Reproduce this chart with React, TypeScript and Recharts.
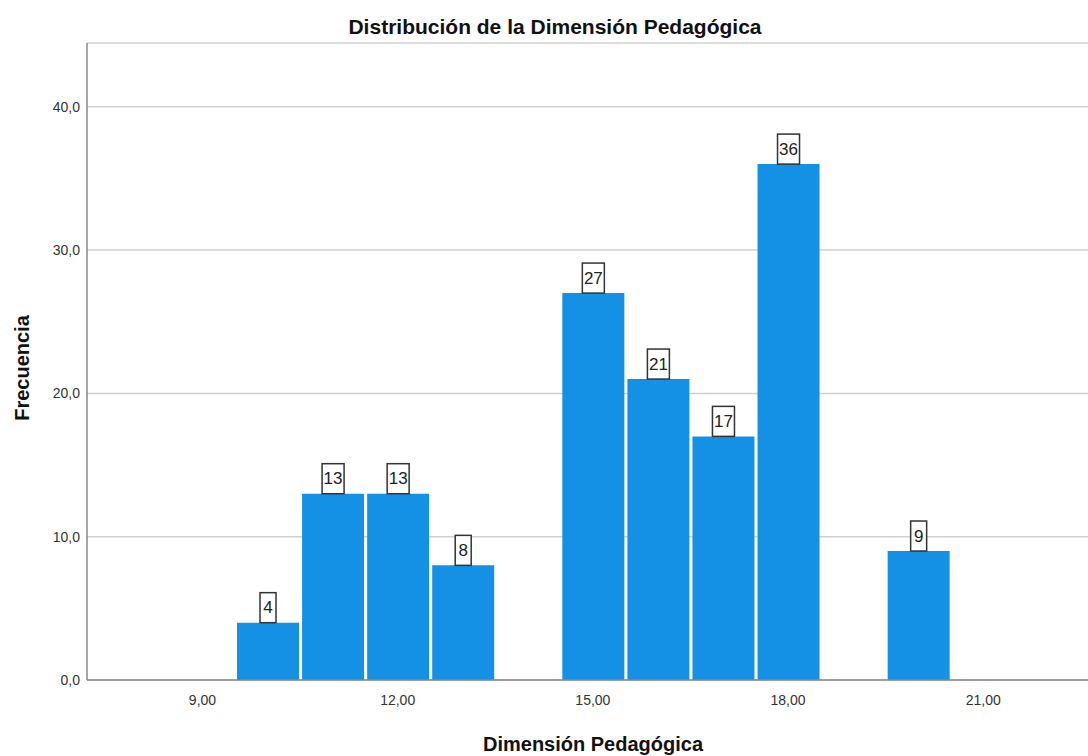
import { BarChart, Bar, XAxis, YAxis, CartesianGrid, LabelList } from 'recharts';

const scores = [10, 11, 12, 13, 15, 16, 17, 18, 20];
const counts = [4, 13, 13, 8, 27, 21, 17, 36, 9];
const xTicks = [9, 12, 15, 18, 21];
const yTicks = [0, 10, 20, 30, 40];

const data = scores.map((s, i) => ({ score: s, count: counts[i] }));

const BAR_BLUE = '#1490e5';
const TICK_STYLE = { fill: '#333', fontSize: 14, fontFamily: 'Liberation Sans, Arial, sans-serif' };

function BoxLabel(props: any) {
  const { x, y, width, value } = props;
  const txt = String(value);
  const w = txt.length > 1 ? 22 : 16;
  const h = 30;
  const cx = x + width / 2;
  return (
    <g>
      <rect x={cx - w / 2} y={y - h} width={w} height={h} fill="#fff" stroke="#333" strokeWidth={1.5} />
      <text
        x={cx}
        y={y - h / 2}
        textAnchor="middle"
        dominantBaseline="central"
        fill="#222"
        fontSize={17}
        fontFamily="Liberation Sans, Arial, sans-serif"
      >
        {txt}
      </text>
    </g>
  );
}

export default function App() {
  return (
    <div style={{ position: 'absolute', left: 0, top: 0, width: 1088, height: 756, background: '#fff' }}>
      {/* title */}
      <div
        style={{
          position: 'absolute',
          left: 0,
          top: 15,
          width: 1110,
          textAlign: 'center',
          fontFamily: 'Liberation Sans, Arial, sans-serif',
          fontWeight: 'bold',
          fontSize: 21,
          color: '#111',
        }}
      >
        Distribución de la Dimensión Pedagógica
      </div>

      <BarChart width={1088} height={756} data={data} margin={{ top: 43, right: 0, left: 0, bottom: 46 }}>
        <CartesianGrid horizontal vertical={false} stroke="#d0d0d0" strokeWidth={1.5} />
        <XAxis
          dataKey="score"
          type="number"
          height={30}
          domain={[7.225, 22.61]}
          ticks={xTicks}
          interval={0}
          allowDataOverflow
          tickLine={false}
          tickSize={0}
          tickMargin={15}
          axisLine={{ stroke: '#888', strokeWidth: 1.5 }}
          tick={TICK_STYLE}
          tickFormatter={(v: number) => v.toFixed(2).replace('.', ',')}
        />
        <YAxis
          type="number"
          domain={[0, 44.45]}
          ticks={yTicks}
          interval={0}
          allowDataOverflow
          width={87}
          tickLine={false}
          tickSize={0}
          tickMargin={7}
          axisLine={{ stroke: '#888', strokeWidth: 1.5 }}
          tick={TICK_STYLE}
          tickFormatter={(v: number) => v.toFixed(1).replace('.', ',')}
        />
        <Bar dataKey="count" fill={BAR_BLUE} barSize={62} isAnimationActive={false}>
          <LabelList dataKey="count" content={<BoxLabel />} />
        </Bar>
      </BarChart>

      {/* axis titles */}
      <div
        style={{
          position: 'absolute',
          left: 22 - 100,
          top: 368 - 15,
          width: 200,
          height: 30,
          lineHeight: '30px',
          textAlign: 'center',
          transform: 'rotate(-90deg)',
          fontFamily: 'Liberation Sans, Arial, sans-serif',
          fontWeight: 'bold',
          fontSize: 20,
          color: '#111',
        }}
      >
        Frecuencia
      </div>
      <div
        style={{
          position: 'absolute',
          left: 593 - 200,
          top: 733,
          width: 400,
          textAlign: 'center',
          fontFamily: 'Liberation Sans, Arial, sans-serif',
          fontWeight: 'bold',
          fontSize: 20,
          color: '#111',
        }}
      >
        Dimensión Pedagógica
      </div>
    </div>
  );
}
